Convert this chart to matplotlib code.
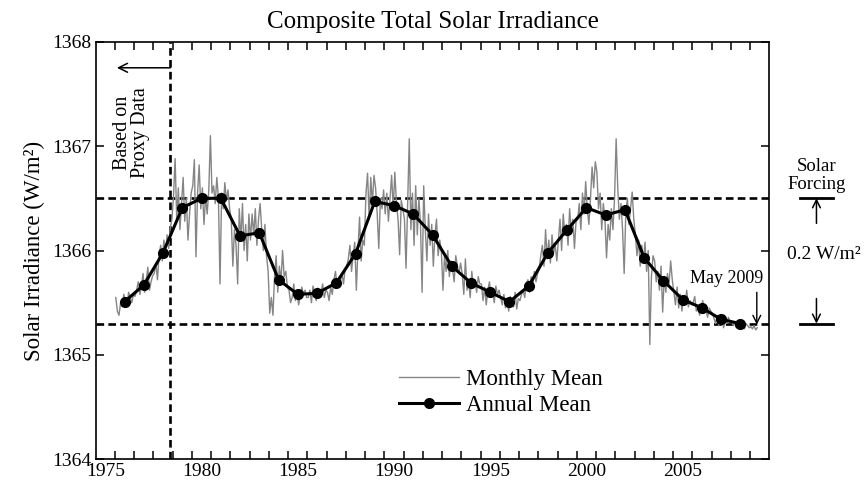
import matplotlib
matplotlib.use("Agg")
import matplotlib.pyplot as plt

plt.rcParams['font.family'] = ['Liberation Serif', 'DejaVu Serif']

# Annual mean total solar irradiance (W/m^2), 1976-2008
annual_years = list(range(1976, 2009))
annual_mean = [
    1365.51, 1365.67, 1365.98, 1366.41, 1366.50, 1366.50, 1366.14, 1366.17,
    1365.72, 1365.58, 1365.59, 1365.69, 1365.97, 1366.47, 1366.43, 1366.35,
    1366.15, 1365.85, 1365.69, 1365.60, 1365.51, 1365.66, 1365.98, 1366.20,
    1366.41, 1366.34, 1366.39, 1365.93, 1365.71, 1365.53, 1365.45, 1365.34,
    1365.30,
]

# Monthly means, one row per year from January 1976 to May 2009
monthly_first_year = 1976
monthly_mean = [
    [1365.55, 1365.42, 1365.38, 1365.50, 1365.46, 1365.58, 1365.52, 1365.47, 1365.60, 1365.55, 1365.50, 1365.58],
    [1365.56, 1365.62, 1365.70, 1365.58, 1365.66, 1365.78, 1365.60, 1365.72, 1365.84, 1365.62, 1365.70, 1365.76],
    [1365.78, 1365.88, 1365.72, 1365.96, 1366.05, 1365.90, 1366.10, 1365.98, 1366.15, 1366.02, 1366.22, 1366.30],
    [1366.52, 1366.88, 1366.30, 1366.60, 1366.20, 1366.45, 1366.70, 1366.28, 1366.50, 1366.10, 1366.35, 1366.55],
    [1366.62, 1366.87, 1365.94, 1366.55, 1366.82, 1366.40, 1366.60, 1366.25, 1366.52, 1366.35, 1366.58, 1367.10],
    [1366.55, 1366.62, 1366.45, 1366.70, 1366.50, 1365.68, 1366.55, 1366.40, 1366.65, 1366.48, 1366.58, 1366.40],
    [1366.30, 1365.85, 1366.20, 1366.05, 1365.68, 1366.40, 1366.10, 1366.45, 1366.00, 1366.25, 1365.90, 1366.35],
    [1366.10, 1366.35, 1366.15, 1366.40, 1366.05, 1366.30, 1366.45, 1366.20, 1366.00, 1366.25, 1365.95, 1365.80],
    [1365.40, 1365.55, 1365.38, 1365.75, 1365.95, 1365.60, 1365.85, 1365.70, 1366.00, 1365.75, 1365.80, 1365.65],
    [1365.62, 1365.50, 1365.55, 1365.68, 1365.52, 1365.60, 1365.48, 1365.56, 1365.65, 1365.58, 1365.62, 1365.55],
    [1365.55, 1365.62, 1365.50, 1365.66, 1365.58, 1365.52, 1365.64, 1365.56, 1365.60, 1365.68, 1365.55, 1365.62],
    [1365.60, 1365.52, 1365.65, 1365.58, 1365.72, 1365.80, 1365.66, 1365.74, 1365.70, 1365.78, 1365.68, 1365.82],
    [1365.85, 1365.92, 1366.05, 1365.80, 1365.95, 1366.08, 1365.62, 1366.00, 1366.32, 1365.90, 1366.10, 1366.05],
    [1366.55, 1366.74, 1366.30, 1366.70, 1366.45, 1366.72, 1366.60, 1366.35, 1366.02, 1366.50, 1366.40, 1366.58],
    [1366.35, 1366.55, 1366.28, 1366.50, 1366.72, 1366.40, 1366.75, 1366.45, 1366.30, 1365.96, 1366.48, 1366.40],
    [1366.30, 1365.83, 1366.45, 1367.07, 1366.20, 1366.55, 1366.05, 1366.62, 1366.15, 1366.50, 1366.25, 1365.60],
    [1366.62, 1366.20, 1365.90, 1366.35, 1366.05, 1366.25, 1365.85, 1366.15, 1366.30, 1365.95, 1366.10, 1366.00],
    [1365.62, 1365.95, 1365.80, 1366.00, 1365.75, 1365.90, 1365.82, 1365.70, 1365.95, 1365.85, 1365.78, 1365.88],
    [1365.78, 1365.58, 1365.92, 1365.62, 1365.70, 1365.55, 1365.80, 1365.65, 1365.72, 1365.60, 1365.75, 1365.68],
    [1365.68, 1365.52, 1365.65, 1365.48, 1365.62, 1365.70, 1365.55, 1365.60, 1365.50, 1365.66, 1365.58, 1365.62],
    [1365.55, 1365.48, 1365.58, 1365.45, 1365.52, 1365.42, 1365.56, 1365.50, 1365.46, 1365.60, 1365.44, 1365.54],
    [1365.52, 1365.58, 1365.62, 1365.55, 1365.68, 1365.72, 1365.60, 1365.75, 1365.66, 1365.80, 1365.70, 1365.78],
    [1365.82, 1365.95, 1366.05, 1365.85, 1366.20, 1365.92, 1366.10, 1365.88, 1366.15, 1365.98, 1366.05, 1365.90],
    [1366.10, 1366.30, 1366.00, 1366.35, 1366.15, 1366.25, 1366.05, 1366.40, 1366.18, 1366.30, 1366.02, 1366.28],
    [1366.30, 1366.45, 1366.20, 1366.55, 1366.35, 1366.66, 1366.40, 1366.25, 1366.50, 1366.80, 1366.60, 1366.85],
    [1366.75, 1366.40, 1366.55, 1366.20, 1366.45, 1366.30, 1365.93, 1366.25, 1366.10, 1366.40, 1366.20, 1366.50],
    [1367.07, 1366.60, 1366.30, 1366.45, 1366.20, 1365.78, 1366.35, 1366.50, 1366.25, 1366.40, 1366.56, 1366.30],
    [1366.15, 1365.95, 1366.10, 1365.85, 1366.05, 1365.90, 1366.08, 1365.80, 1366.00, 1365.10, 1365.75, 1365.95],
    [1365.90, 1365.70, 1365.80, 1365.62, 1365.85, 1365.41, 1365.75, 1365.60, 1365.78, 1365.68, 1365.90, 1365.72],
    [1365.60, 1365.48, 1365.65, 1365.45, 1365.58, 1365.42, 1365.55, 1365.50, 1365.62, 1365.46, 1365.52, 1365.48],
    [1365.50, 1365.56, 1365.42, 1365.48, 1365.38, 1365.46, 1365.52, 1365.40, 1365.44, 1365.36, 1365.45, 1365.42],
    [1365.40, 1365.35, 1365.30, 1365.38, 1365.28, 1365.36, 1365.32, 1365.26, 1365.34, 1365.30, 1365.36, 1365.32],
    [1365.32, 1365.28, 1365.30, 1365.26, 1365.33, 1365.29, 1365.27, 1365.31, 1365.25, 1365.30, 1365.28, 1365.26],
    [1365.27, 1365.25, 1365.28, 1365.24, 1365.26],
]

# Reference levels and the start of satellite measurements (Nov 1978)
solar_max_level = 1366.5
solar_min_level = 1365.3
proxy_end = 1978.875

year_labels = [1975, 1980, 1985, 1990, 1995, 2000, 2005]
y_ticks = [1364, 1365, 1366, 1367, 1368]

# Decimal-year positions
monthly_x, monthly_y = [], []
for i, row in enumerate(monthly_mean):
    for m, v in enumerate(row):
        monthly_x.append(monthly_first_year + i + (m + 0.5) / 12.0)
        monthly_y.append(v)
annual_x = [y + 0.5 for y in annual_years]

fig = plt.figure(figsize=(8.64, 4.83), dpi=100)
ax = fig.add_axes([0.1108, 0.049, 0.7796, 0.8647])

dash_kw = dict(color='black', lw=1.9, dashes=(2.9, 1.6))
ax.axhline(solar_max_level, **dash_kw, zorder=1)
ax.axhline(solar_min_level, **dash_kw, zorder=1)
ax.axvline(proxy_end, **dash_kw, zorder=1)

ax.plot(monthly_x, monthly_y, color='#858585', lw=1.0, label='Monthly Mean', zorder=2)
ax.plot(annual_x, annual_mean, color='black', lw=2.2, marker='o', ms=7,
        label='Annual Mean', zorder=3)

ax.set_xlim(1975, 2010)
ax.set_ylim(1364, 1368)

# Year boundaries as ticks, year labels centred in each year
ax.set_xticks(range(1976, 2010))
ax.set_xticklabels([])
ax.set_xticks([y + 0.5 for y in year_labels], [str(y) for y in year_labels], minor=True)
ax.tick_params(axis='x', which='minor', length=0, labelsize=14, pad=3)
ax.tick_params(axis='both', which='major', direction='in', length=6, width=1.1,
               top=True, right=True, labelsize=14)
ax.set_yticks(y_ticks)
for s in ax.spines.values():
    s.set_linewidth(1.2)

ax.set_ylabel('Solar Irradiance (W/m²)', fontsize=16.5, labelpad=5)
ax.set_title('Composite Total Solar Irradiance', fontsize=18, pad=10)

ax.legend(loc='upper left', bbox_to_anchor=(0.462, 0.236), bbox_transform=fig.transFigure,
          frameon=False, fontsize=16.5, handlelength=2.6, handletextpad=0.3,
          labelspacing=0.22, borderpad=0, borderaxespad=0)

# Proxy-data note
ax.annotate('', xy=(1976.1, 1367.75), xytext=(proxy_end, 1367.75),
            arrowprops=dict(arrowstyle='->', lw=1.1, color='black',
                            shrinkA=0, shrinkB=0, mutation_scale=16))
ax.text(1976.85, 1367.13, 'Based on\nProxy Data', rotation=90, ha='center', va='center',
        fontsize=14.5, linespacing=0.95)

# Latest data point
ax.text(2007.8, 1365.73, 'May 2009', ha='center', va='center', fontsize=13)
ax.annotate('', xy=(2009.35, 1365.29), xytext=(2009.35, 1365.6),
            arrowprops=dict(arrowstyle='->', lw=1.0, color='black',
                            shrinkA=0, shrinkB=0, mutation_scale=14))

# Solar forcing bracket on the right
bx0, bx1, bxc = 2011.6, 2013.3, 2012.45
ax.plot([bx0, bx1], [solar_max_level] * 2, color='black', lw=2.0, clip_on=False)
ax.plot([bx0, bx1], [solar_min_level] * 2, color='black', lw=2.0, clip_on=False)
ax.annotate('', xy=(bxc, solar_max_level), xytext=(bxc, 1366.26), annotation_clip=False,
            arrowprops=dict(arrowstyle='->', lw=1.1, color='black',
                            shrinkA=0, shrinkB=0, mutation_scale=14))
ax.annotate('', xy=(bxc, solar_min_level), xytext=(bxc, 1365.54), annotation_clip=False,
            arrowprops=dict(arrowstyle='->', lw=1.1, color='black',
                            shrinkA=0, shrinkB=0, mutation_scale=14))
ax.text(bxc, 1366.72, 'Solar\nForcing', ha='center', va='center', fontsize=13.5,
        linespacing=1.1, clip_on=False)
ax.text(2012.85, 1365.96, '0.2 W/m²', ha='center', va='center', fontsize=14, clip_on=False)

fig.savefig('out.png', dpi=100)
